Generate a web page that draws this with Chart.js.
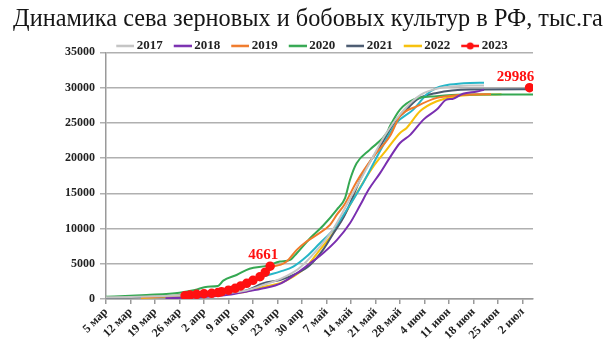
<!DOCTYPE html>
<html><head><meta charset="utf-8">
<script src="https://cdn.jsdelivr.net/npm/chart.js@4"></script>
<style>html,body{margin:0;padding:0;background:#fff}#wrap{width:616px;height:352px}</style>
</head><body><div id="wrap"><canvas id="c" width="616" height="352"></canvas></div>
<script>
const titleText = 'Динамика сева зерновых и бобовых культур в РФ, тыс.га';
const tickLabels = ['5 мар','12 мар','19 мар','26 мар','2 апр','9 апр','16 апр','23 апр','30 апр','7 май','14 май','21 май','28 май','4 июн','11 июн','18 июн','25 июн','2 июл'];
const yTicks = [0,5000,10000,15000,20000,25000,30000,35000];

// x = days since 5 March
const days2017 = [0,7,14,21,28,35,40,45,50,55,60,65,70,75,80,85,90,95,100,104,108];
const values2017 = [250,300,380,480,620,850,1200,2000,2900,4300,6800,10000,14500,19000,23500,26800,29000,29900,30200,30300,30300];

const days2018 = [17,24,28,35,40,45,50,54.5,58.3,62,66,69.7,72.6,75,78.3,81,84,87,90.7,94.5,97.3,99,102,106,108];
const values2018 = [100,200,300,600,1040,1520,2230,3650,5070,6500,8390,10750,13300,15500,17870,20000,22140,23330,25460,26880,28300,28400,29130,29450,29700];

const days2019 = [10,14,21,28,35,40,45,47.8,49.7,51.6,54.5,57.3,60.2,64,66,68,71.6,76.4,81.1,84,88.8,94.5,100,104,110];
const values2019 = [200,300,500,750,1100,2000,3300,4600,4840,5310,6970,8150,9100,10520,12000,13300,16650,20200,23090,25940,27350,28540,28900,29010,29050];

const days2020 = [0,7,11.6,21,25.4,29,32,33.5,37.3,41,45.9,49.7,52.6,54.5,58.3,62,65.9,68.3,69.7,71.6,75.4,80.2,81.1,84,87.8,94.5,102,122];
const values2020 = [330,450,570,900,1280,1750,1850,2600,3410,4300,4700,5310,5550,6500,8630,10400,12660,14320,16890,19260,21200,23560,24510,26880,28300,28780,29010,29010];

const days2021 = [0,7,14,21,28,35,40,45,49.7,54.5,58.3,62,65,68,73.5,78.3,83,85,88.8,94.5,104,122];
const values2021 = [200,250,350,450,550,800,1200,2230,2700,3650,4840,6970,9340,11700,17870,21670,25460,26400,28300,29250,29730,29780];

const days2022 = [10,14,21,28,35,40,45,49.7,53.5,57.3,61.1,64.9,68,71.6,76.4,80.2,84,85.9,89.7,94.5,100.2,113];
const values2022 = [150,250,400,600,800,1040,1750,2230,3170,4600,6970,9340,11800,15000,18820,21200,23560,24280,26640,28060,28780,29050];

const days2023 = [22.6,24,25.9,28,30.2,32,33,35,36.9,38.5,40.2,42,44,45.5,46.9,47.5,121];
const values2023 = [470,560,670,750,810,920,1040,1250,1520,1850,2230,2650,3170,3800,4661,null,29986];
const labelled2023 = [14,16]; // indices of 2023 points with value labels

// unlabelled extra series (cyan line, absent from legend)
const daysExtra = [14,21,28,35,40,45,49.7,53.5,57.3,61.1,64.9,68.8,73.5,78.3,83,87.8,91.6,94.5,98.3,104,108];
const valuesExtra = [350,500,800,1300,2000,3170,3880,4600,6020,7910,9810,12660,16500,21000,25000,26880,29010,29960,30430,30670,30700];

const colors = {
  '2017':'#c4c4c4','2018':'#7a2fb0','2019':'#f07a2a','2020':'#35a852',
  '2021':'#4a5a70','2022':'#f7c00a','2023':'#ff1010','extra':'#27b6c8'
};

const pts = (d, v) => d.map((x, i) => ({x: x, y: v[i]}));
const FONT = "'Liberation Serif', 'Times New Roman', serif";

function legendImg(color, dot) {
  const c = document.createElement('canvas');
  c.width = 30; c.height = 10;
  const g = c.getContext('2d');
  g.strokeStyle = color; g.lineWidth = 2.5;
  g.beginPath(); g.moveTo(12, 5); g.lineTo(30, 5); g.stroke();
  if (dot) { g.fillStyle = color; g.beginPath(); g.arc(21, 5, 3.5, 0, Math.PI*2); g.fill(); }
  return c;
}

function line(label, d, v, color, extra) {
  return Object.assign({
    label: label, data: pts(d, v), borderColor: color, backgroundColor: color,
    borderWidth: 2, pointRadius: 0, cubicInterpolationMode: 'monotone', spanGaps: false, fill: false
  }, extra || {});
}

const datasets = [
  line('2017', days2017, values2017, colors['2017']),
  line('2018', days2018, values2018, colors['2018']),
  line('2019', days2019, values2019, colors['2019']),
  line('2020', days2020, values2020, colors['2020']),
  line('', daysExtra, valuesExtra, colors.extra),
  line('2021', days2021, values2021, colors['2021']),
  line('2022', days2022, values2022, colors['2022']),
  line('2023', days2023, values2023, colors['2023'], {borderWidth: 3.5, pointRadius: 3, pointHoverRadius: 3, order: -1})
];

const valueLabels = {
  id: 'valueLabels',
  afterDatasetsDraw(chart) {
    const idx = chart.data.datasets.findIndex(d => d.label === '2023');
    const meta = chart.getDatasetMeta(idx);
    const ctx = chart.ctx;
    ctx.save();
    ctx.font = "bold 15px " + FONT;
    ctx.fillStyle = colors['2023'];
    ctx.textAlign = 'center'; ctx.textBaseline = 'middle';
    labelled2023.forEach((i, k) => {
      const p = meta.data[i];
      const dx = k === 0 ? -7 : -14;
      ctx.fillText(String(values2023[i]), p.x + dx, p.y - 11);
    });
    ctx.restore();
  }
};

new Chart(document.getElementById('c'), {
  type: 'line',
  data: { datasets: datasets },
  plugins: [valueLabels],
  options: {
    responsive: false, animation: false, devicePixelRatio: 1,
    layout: { padding: 0 },
    plugins: {
      tooltip: { enabled: false },
      title: {
        display: true, text: titleText, color: '#151515',
        font: { family: FONT, size: 24.3, weight: 'normal', lineHeight: 1.23 },
        padding: { top: 5, bottom: 1.5 }
      },
      legend: {
        display: true, position: 'top', maxHeight: 16,
        labels: {
          font: { family: FONT, size: 13, weight: 'bold' }, color: '#222',
          usePointStyle: true, pointStyleWidth: 22, padding: 3,
          generateLabels(chart) {
            const base = Chart.defaults.plugins.legend.labels.generateLabels(chart);
            return base.filter(l => l.text !== '')
              .sort((a, b) => a.datasetIndex - b.datasetIndex)
              .map(l => Object.assign(l, { pointStyle: legendImg(colors[l.text], l.text === '2023') }));
          }
        }
      }
    },
    scales: {
      x: {
        type: 'linear', min: 0, max: 122,
        afterBuildTicks(scale) { scale.ticks = tickLabels.map((_, i) => ({ value: i * 7 })); },
        afterFit(scale) { scale.height = 53; },
        ticks: {
          autoSkip: false, minRotation: 45, maxRotation: 45, padding: 1,
          color: '#222', font: { family: FONT, size: 12, weight: 'bold' },
          callback: (v) => tickLabels[Math.round(v / 7)]
        },
        grid: { drawOnChartArea: false, drawTicks: true, tickLength: 5, color: '#9a9a9a', lineWidth: 1.5 },
        border: { display: true, color: '#9a9a9a', width: 1.5 }
      },
      y: {
        min: 0, max: 35000,
        afterBuildTicks(scale) { scale.ticks = yTicks.map(v => ({ value: v })); },
        afterFit(scale) { scale.width = 106; },
        ticks: {
          color: '#222', padding: 5, font: { family: FONT, size: 12, weight: 'bold' },
          callback: (v) => String(v)
        },
        grid: { color: '#b0b0b0', lineWidth: 1.5, tickLength: 6, drawTicks: true },
        border: { display: true, color: '#9a9a9a', width: 1.5 }
      },
      yRightSpace: {
        position: 'right', display: true, min: 0, max: 1,
        afterFit(scale) { scale.width = 83; },
        ticks: { display: false },
        grid: { display: false, drawTicks: false },
        border: { display: false }
      }
    }
  }
});
</script>
</body></html>
